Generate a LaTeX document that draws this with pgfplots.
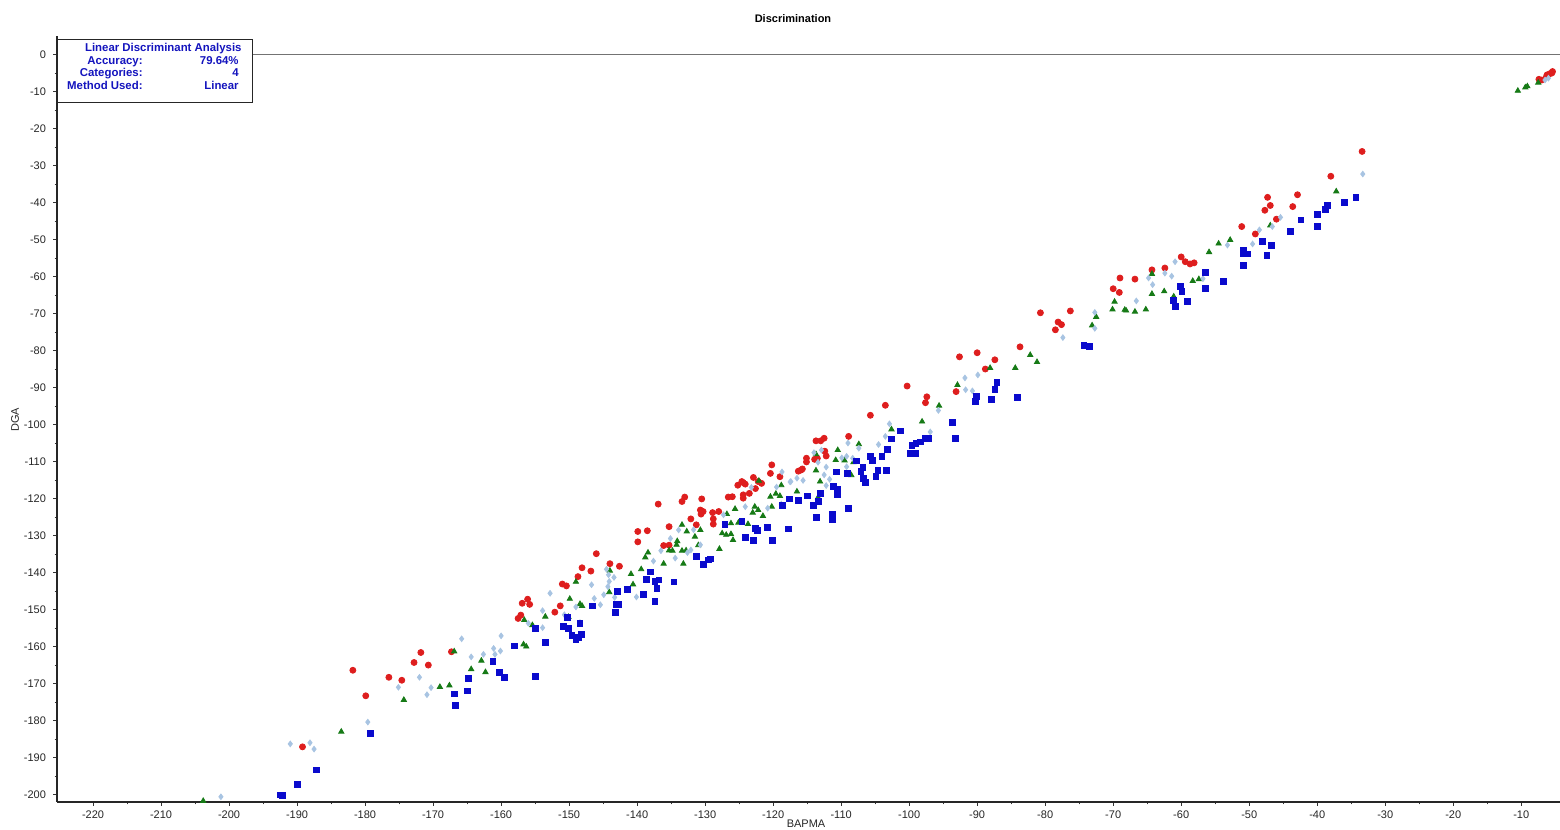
\documentclass[border=0pt]{standalone}
\usepackage{pgfplots}
\pgfplotsset{compat=1.18}
\usepackage{fontspec}
\setmainfont{Liberation Sans}

\definecolor{catred}{RGB}{222,30,30}
\definecolor{catgreen}{RGB}{22,122,22}
\definecolor{catlight}{RGB}{168,196,226}
\definecolor{catblue}{RGB}{10,10,205}
\definecolor{infoblue}{RGB}{20,20,190}

\begin{document}
\begin{tikzpicture}
\path[use as bounding box] (0pt,0pt) rectangle (780pt,415pt);
\begin{axis}[
  at={(28.5pt,14pt)}, anchor=south west,
  scale only axis, width=751.5pt, height=383pt,
  xmin=-225.3, xmax=-4.3, ymin=-201.9, ymax=5.1,
  axis lines=left,
  axis line style={-, black!85, line width=0.8pt},
  xtick={-220,-210,...,-10}, ytick={-200,-190,...,0},
  minor x tick num=1, minor y tick num=1,
  tick align=outside, major tick length=2pt, minor tick length=1.2pt,
  tick style={black!80, line width=0.5pt},
  ticklabel style={font=\fontsize{5.5}{6}\selectfont, text=black!85},
  xticklabel style={yshift=1.3pt},
  /pgf/number format/assume math mode=true,
  only marks,
]
\draw[black!55, line width=0.5pt] (axis cs:-225.3,0) -- (axis cs:-4.3,0);

% category 1
\addplot[mark=*, mark size=1.5pt, mark options={draw=catred, fill=catred}] coordinates {
(-189.2,-187.0) (-181.8,-166.3) (-179.9,-173.2) (-176.5,-168.2) (-174.6,-169.0)
(-172.8,-164.2) (-171.8,-161.5) (-170.7,-164.9) (-167.3,-161.3) (-157.1,-151.4)
(-157.5,-152.3) (-156.9,-148.2) (-156.1,-147.1) (-155.8,-148.5) (-152.1,-150.6)
(-151.3,-148.9) (-151.0,-143.0) (-150.4,-143.5) (-148.7,-141.0) (-148.1,-138.6)
(-146.8,-139.5) (-146.0,-134.8) (-144.0,-137.5) (-142.6,-138.2) (-139.9,-128.8)
(-139.9,-131.6) (-138.5,-128.6) (-136.9,-121.4) (-136.1,-132.6) (-135.3,-132.5)
(-135.3,-127.5) (-133.4,-120.7) (-133.0,-119.5) (-132.1,-125.4) (-131.3,-127.0)
(-130.7,-123.0) (-130.3,-123.4) (-130.6,-124.1) (-130.5,-120.0) (-128.9,-123.7)
(-128.0,-123.4) (-128.8,-125.4) (-128.8,-126.8) (-126.6,-119.5) (-126.0,-119.4)
(-125.2,-116.3) (-124.6,-115.3) (-124.1,-116.0) (-124.4,-115.6) (-124.4,-118.9)
(-123.5,-118.5) (-124.4,-119.8) (-122.9,-114.2) (-122.6,-117.2) (-122.2,-115.3)
(-121.7,-115.8) (-120.2,-110.8) (-120.4,-113.1) (-119.0,-114.0) (-116.3,-112.5)
(-115.9,-112.2) (-115.7,-111.9) (-115.1,-109.0) (-115.1,-110.0) (-113.9,-109.3)
(-113.5,-109.0) (-113.7,-104.3) (-113.0,-104.3) (-112.5,-103.6) (-112.4,-107.1)
(-112.2,-108.4) (-108.9,-103.1) (-105.7,-97.4) (-103.5,-94.7) (-100.3,-89.5)
(-97.4,-92.4) (-97.6,-94.0) (-93.1,-91.0) (-92.6,-81.6) (-90.0,-80.5)
(-88.8,-84.9) (-87.4,-82.4) (-83.7,-78.9) (-80.7,-69.7) (-78.5,-74.3)
(-78.1,-72.2) (-77.6,-72.9) (-76.3,-69.2) (-70.0,-63.2) (-69.1,-64.2)
(-69.0,-60.3) (-66.8,-60.6) (-64.3,-58.1) (-62.4,-57.6) (-60.0,-54.6)
(-59.4,-55.9) (-58.7,-56.5) (-58.1,-56.2) (-51.1,-46.4) (-49.1,-48.4)
(-47.3,-38.5) (-46.9,-40.7) (-47.7,-42.0) (-46.0,-44.4) (-43.6,-41.0)
(-42.9,-37.8) (-38.0,-32.8) (-33.4,-26.1)
(-7.0,-6.8) (-6.3,-5.9) (-5.8,-5.1) (-5.5,-4.9) (-7.4,-6.6) (-5.4,-4.5) (-6.2,-5.4)
};

% category 2
\addplot[mark=triangle*, mark size=1.5pt, mark options={draw=catgreen, fill=catgreen}] coordinates {
(-203.8,-201.6) (-183.5,-182.9) (-174.3,-174.3) (-169.0,-170.8) (-167.6,-170.4)
(-166.9,-161.2) (-164.4,-166.0) (-162.9,-163.7) (-162.3,-166.8) (-156.7,-159.3)
(-156.3,-159.9) (-156.6,-152.7) (-155.4,-154.1) (-153.5,-151.8) (-150.1,-151.9)
(-149.9,-147.0) (-149.0,-142.4) (-148.4,-148.4) (-148.1,-148.9) (-144.1,-145.2)
(-144.0,-139.4) (-140.9,-140.3) (-140.6,-143.1) (-139.4,-139.0) (-138.8,-135.8)
(-138.4,-134.5) (-136.1,-137.5) (-135.3,-133.9) (-134.8,-134.0) (-134.2,-132.4)
(-134.1,-131.4) (-133.4,-134.0) (-132.8,-133.9) (-133.2,-137.5) (-133.4,-127.0)
(-132.7,-128.8) (-131.5,-130.2) (-130.7,-128.4) (-131.0,-132.5) (-127.9,-133.5)
(-127.5,-129.3) (-126.9,-129.7) (-126.2,-129.5) (-125.9,-131.1) (-126.8,-124.1)
(-126.2,-126.6) (-125.1,-126.4) (-125.6,-122.7) (-123.7,-126.8) (-123.0,-123.7)
(-122.7,-122.1) (-122.2,-123.0) (-121.5,-124.6) (-122.1,-115.1) (-120.4,-119.4)
(-119.6,-118.6) (-119.0,-119.2) (-120.2,-122.1) (-118.8,-116.3) (-116.5,-118.0)
(-113.7,-107.9) (-113.7,-112.3) (-113.1,-115.3) (-113.4,-119.6) (-110.8,-109.5)
(-109.5,-109.6) (-108.2,-110.1) (-110.5,-106.8) (-108.5,-113.6) (-107.4,-105.2)
(-102.6,-101.2) (-98.1,-99.1) (-95.6,-94.8) (-92.9,-89.2) (-88.1,-84.6)
(-84.4,-84.6) (-82.2,-81.1) (-81.2,-83.0) (-73.1,-73.1) (-72.5,-70.8)
(-70.1,-68.8) (-69.8,-66.7) (-68.3,-68.9) (-68.1,-69.1) (-66.8,-69.4)
(-65.2,-68.8) (-64.3,-64.6) (-64.3,-59.2) (-62.5,-63.9) (-61.1,-65.3)
(-58.3,-61.1) (-57.4,-60.6) (-55.9,-53.3) (-54.5,-51.0) (-52.8,-50.0)
(-46.9,-46.1) (-37.2,-36.9)
(-10.5,-9.7) (-9.4,-8.8) (-9.1,-8.5) (-7.5,-7.5)
};

% category 3
\addplot[mark=diamond*, mark size=1.4pt, mark options={draw=catlight, fill=catlight}] coordinates {
(-201.2,-200.5) (-191.0,-186.2) (-188.1,-185.9) (-187.5,-187.6) (-179.6,-180.3)
(-175.1,-170.9) (-172.0,-168.2) (-170.9,-172.9) (-170.3,-171.0) (-165.8,-157.8)
(-164.4,-162.7) (-162.6,-162.0) (-161.1,-160.4) (-160.9,-162.0) (-160.1,-161.1)
(-160.0,-157.0) (-156.0,-153.6) (-153.9,-150.2) (-153.9,-154.8) (-152.8,-145.5)
(-150.7,-151.3) (-149.0,-149.2) (-148.4,-153.4) (-146.7,-143.2) (-146.3,-146.9)
(-145.4,-148.6) (-144.9,-145.9) (-144.5,-139.0) (-144.2,-140.5) (-143.4,-141.2)
(-144.1,-142.3) (-144.3,-143.7) (-143.3,-146.6) (-140.1,-146.5) (-137.6,-136.8)
(-136.5,-134.0) (-135.1,-130.7) (-134.4,-136.0) (-133.9,-128.4) (-132.6,-134.5)
(-132.1,-133.8) (-131.7,-128.3) (-130.7,-132.4) (-127.3,-124.3) (-124.1,-122.1)
(-123.2,-116.9) (-120.8,-122.5) (-119.5,-116.8) (-118.8,-121.4) (-118.7,-112.7)
(-117.4,-115.3) (-116.5,-114.4) (-117.5,-115.4) (-115.6,-115.0) (-114.0,-107.5)
(-112.9,-106.8) (-113.4,-110.1) (-112.2,-111.4) (-112.5,-113.5) (-111.7,-114.7)
(-112.2,-116.4) (-109.9,-108.9) (-109.2,-108.5) (-108.3,-109.0) (-109.2,-111.3)
(-109.0,-104.9) (-107.4,-106.3) (-104.5,-105.3) (-103.5,-103.1) (-102.9,-99.7)
(-96.9,-101.9) (-95.7,-96.1) (-91.7,-90.5) (-90.7,-90.8) (-91.8,-87.3)
(-89.9,-86.5) (-77.4,-76.4) (-72.7,-73.9) (-72.7,-69.6) (-66.6,-66.5)
(-64.8,-60.3) (-64.2,-62.1) (-62.4,-59.0) (-61.4,-59.8) (-60.9,-55.9)
(-56.8,-60.5) (-53.2,-51.4) (-49.5,-51.1) (-48.5,-47.3) (-46.6,-46.4)
(-45.4,-43.9) (-33.3,-32.2)
(-6.5,-6.8) (-6.0,-6.3)
};

% category 4
\addplot[mark=square*, mark size=1.45pt, mark options={draw=catblue, fill=catblue}] coordinates {
(-192.4,-200.0) (-192.1,-200.2) (-189.9,-197.1) (-187.1,-193.2) (-179.2,-183.3)
(-166.9,-172.7) (-166.7,-175.7) (-165.0,-171.9) (-164.8,-168.6) (-161.2,-163.8)
(-160.2,-166.9) (-159.5,-168.2) (-158.0,-159.7) (-154.9,-168.0) (-154.9,-155.0)
(-153.5,-158.8) (-150.2,-152.0) (-150.8,-154.5) (-150.1,-154.9) (-149.6,-156.8)
(-149.0,-158.1) (-148.6,-157.4) (-148.2,-156.6) (-148.4,-153.6) (-146.6,-148.9)
(-142.9,-145.0) (-143.1,-148.4) (-142.7,-148.4) (-143.2,-150.6) (-141.4,-144.4)
(-139.1,-145.7) (-138.6,-141.7) (-138.0,-139.7) (-137.4,-142.2) (-136.8,-141.9)
(-137.1,-144.2) (-137.4,-147.6) (-134.6,-142.4) (-131.3,-135.6) (-130.3,-137.7)
(-129.5,-136.5) (-129.2,-136.2) (-127.1,-126.8) (-124.6,-126.1) (-124.1,-130.4)
(-122.9,-131.1) (-122.6,-127.9) (-122.3,-128.4) (-120.9,-127.7) (-120.1,-131.3)
(-117.8,-128.1) (-117.6,-120.0) (-118.6,-121.7) (-116.3,-120.5) (-115.0,-119.2)
(-114.1,-121.7) (-113.4,-120.7) (-113.0,-118.5) (-113.6,-124.9) (-111.3,-124.1)
(-111.3,-125.6) (-108.9,-122.6) (-111.1,-116.6) (-110.6,-117.5) (-110.5,-118.9)
(-110.7,-112.7) (-109.1,-113.2) (-107.7,-109.7) (-106.8,-111.4) (-107.1,-112.6)
(-106.7,-114.4) (-106.4,-115.5) (-105.7,-108.5) (-105.4,-109.5) (-104.0,-108.5)
(-104.6,-112.3) (-103.3,-112.3) (-104.9,-114.0) (-103.2,-106.6) (-102.6,-103.8)
(-101.3,-101.6) (-99.6,-105.6) (-99.0,-105.0) (-98.4,-104.6) (-97.6,-103.6)
(-97.1,-103.6) (-99.9,-107.7) (-99.1,-107.7) (-93.6,-99.4) (-93.2,-103.6)
(-90.1,-92.2) (-90.3,-93.7) (-87.9,-93.0) (-87.4,-90.5) (-87.1,-88.6)
(-84.1,-92.6) (-74.3,-78.5) (-73.5,-78.8) (-61.1,-66.4) (-60.9,-67.9)
(-60.1,-62.6) (-59.9,-63.9) (-59.1,-66.7) (-56.5,-58.8) (-56.5,-63.2)
(-53.8,-61.3) (-50.9,-52.7) (-50.2,-53.8) (-50.9,-53.8) (-50.9,-56.8)
(-48.1,-50.5) (-47.4,-54.1) (-46.7,-51.4) (-44.0,-47.8) (-42.4,-44.6)
(-40.0,-43.1) (-40.0,-46.4) (-38.5,-40.7) (-38.8,-41.8) (-36.0,-39.9)
(-34.3,-38.5)
};
\end{axis}

% info box
\draw[black!85, line width=0.5pt, fill=white] (28.5pt,395pt) rectangle (126pt,363.5pt);
\begin{scope}[every node/.style={font=\fontsize{5.7}{6}\selectfont\bfseries, text=infoblue, inner sep=0pt}]
\node[anchor=base east] at (121pt,389pt) {Linear Discriminant Analysis};
\node[anchor=base east] at (71.5pt,382.5pt) {Accuracy:};
\node[anchor=base east] at (119.5pt,382.5pt) {79.64\%};
\node[anchor=base east] at (71.5pt,376.5pt) {Categories:};
\node[anchor=base east] at (119.5pt,376.5pt) {4};
\node[anchor=base east] at (71.5pt,370pt) {Method Used:};
\node[anchor=base east] at (119.5pt,370pt) {Linear};
\end{scope}

% titles
\node[font=\fontsize{5.5}{6}\selectfont\bfseries, inner sep=0pt] at (396.5pt,405.5pt) {Discrimination};
\node[font=\fontsize{5.5}{6}\selectfont, text=black!85, inner sep=0pt] at (403pt,3pt) {BAPMA};
\node[font=\fontsize{5.5}{6}\selectfont, text=black!85, inner sep=0pt, rotate=90] at (7.5pt,205pt) {DGA};
\end{tikzpicture}
\end{document}
